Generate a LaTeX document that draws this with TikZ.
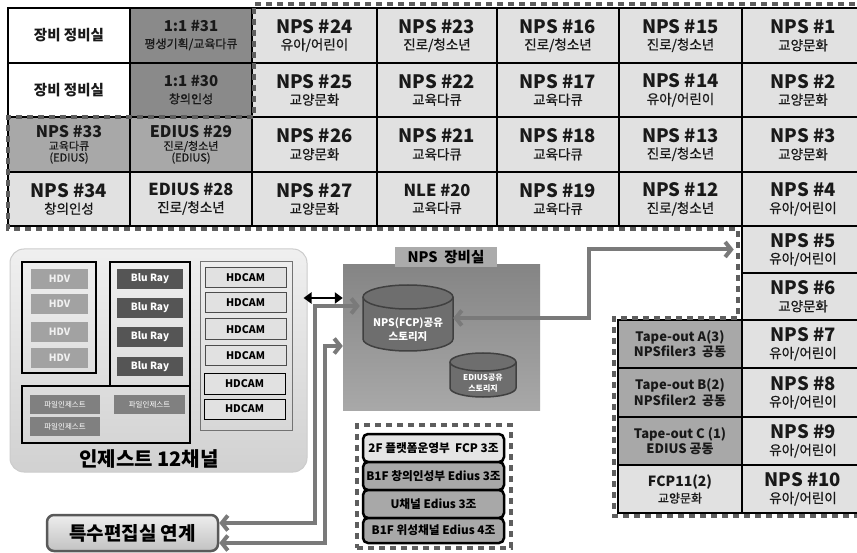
\documentclass[tikz,border=0pt]{standalone}
\usepackage{fontspec}
\setmainfont{Noto Sans CJK KR}
\newfontfamily\subf{Noto Sans CJK KR}[FakeBold=0.8]
\usetikzlibrary{arrows.meta}
\definecolor{cellg}{HTML}{E1E1E1}
\definecolor{darkg}{HTML}{8A8A8A}
\definecolor{midg}{HTML}{A8A8A8}
\definecolor{dashg}{HTML}{5E5E5E}
\definecolor{arrg}{HTML}{7A7A7A}
\definecolor{hdvg}{HTML}{A2A2A2}
\definecolor{blug}{HTML}{555555}
\definecolor{fileg}{HTML}{808080}
\definecolor{cylg}{HTML}{6E6E6E}
\newcommand\Cell[7]{\node[cellbox,fill=#6,minimum width={(#4-#2)*1pt},minimum height={(#5-#3)*1pt}] (#1) at ({(#2+#4)/2},{(#3+#5)/2}) {#7};}
\newcommand\Bx[6]{\node[#6,minimum width={(#4-#2)*1pt},minimum height={(#5-#3)*1pt}] (#1) at ({(#2+#4)/2},{(#3+#5)/2})}
\newcommand\Np[2]{{\fontsize{18.5}{18.5}\selectfont\bfseries #1}\\{\subf #2}}
\newcommand\Mid[2]{{\fontsize{16.5}{16.5}\selectfont\bfseries #1}\\{\subf #2}}
\newcommand\Sm[2]{{\fontsize{15}{15}\selectfont\bfseries #1}\\{\fontsize{12}{12}\selectfont\subf #2}}
\newcommand\Tri[3]{{\fontsize{16}{16}\selectfont\bfseries #1}\\[-4pt]{\fontsize{11}{11}\selectfont\subf #2}\\[-5pt]{\fontsize{11}{11}\selectfont\subf #3}}
\newcommand\Tape[2]{{\fontsize{13}{13}\selectfont\bfseries #1}\\[-1pt]{\fontsize{13}{13}\selectfont\bfseries #2}}
\newcommand\Head{{\fontsize{14.5}{14.5}\selectfont\bfseries 장비 정비실}}
\begin{document}
\begin{tikzpicture}[x=1pt,y=-1pt,
  cellbox/.style={draw=black,line width=2.6pt,inner sep=0pt,align=center,font=\fontsize{13.5}{16.5}\selectfont,text=black!90},
  dashline/.style={draw=dashg,line width=4.5pt,dash pattern=on 6pt off 5pt},
  grpbox/.style={draw=black,line width=2pt,inner sep=0pt},
  hdcgrp/.style={draw=black!55,line width=1pt,inner sep=0pt},
  hdvbox/.style={fill=hdvg,inner sep=0pt,text=white!94!black,font=\fontsize{10}{10}\selectfont\bfseries},
  blubox/.style={fill=blug,inner sep=0pt,text=white,font=\fontsize{10}{10}\selectfont\bfseries},
  filebox/.style={fill=fileg,inner sep=0pt,text=white,font=\fontsize{7.5}{7.5}\selectfont},
  hdcbox/.style={fill=cellg,draw=black!70,line width=1pt,inner sep=0pt,font=\fontsize{10.5}{10.5}\selectfont\bfseries},
  listbox/.style={draw=black,line width=2.5pt,rounded corners=5pt,inner sep=0pt,font=\fontsize{11.7}{11.7}\selectfont\bfseries},
  garrow/.style={draw=arrg,line width=4pt,{Straight Barb[length=6pt,width=15pt]}-{Straight Barb[length=6pt,width=15pt]}},
  barrow/.style={draw=black,line width=2.5pt,{Triangle[length=8pt,width=11pt]}-{Triangle[length=8pt,width=11pt]}}
]
\useasboundingbox (0,0) rectangle (857,553);
\fill[white] (0,0) rectangle (857,553);
% ---- top grid
\Cell{a1}{8}{8}{130}{63}{white}{\Head}
\Cell{a2}{130}{8}{252}{63}{darkg}{\Sm{1:1 \#31}{평생기획/교육다큐}}
\Cell{n24}{252}{8}{377}{63}{cellg}{\Np{NPS \#24}{유아/어린이}}
\Cell{n23}{377}{8}{497}{63}{cellg}{\Np{NPS \#23}{진로/청소년}}
\Cell{n16}{497}{8}{619}{63}{cellg}{\Np{NPS \#16}{진로/청소년}}
\Cell{n15}{619}{8}{742}{63}{cellg}{\Np{NPS \#15}{진로/청소년}}
\Cell{n1}{742}{8}{864}{63}{cellg}{\Np{NPS \#1}{교양문화}}
\Cell{b1}{8}{63}{130}{117}{white}{\Head}
\Cell{b2}{130}{63}{252}{117}{darkg}{\Sm{1:1 \#30}{창의인성}}
\Cell{n25}{252}{63}{377}{117}{cellg}{\Np{NPS \#25}{교양문화}}
\Cell{n22}{377}{63}{497}{117}{cellg}{\Np{NPS \#22}{교육다큐}}
\Cell{n17}{497}{63}{619}{117}{cellg}{\Np{NPS \#17}{교육다큐}}
\Cell{n14}{619}{63}{742}{117}{cellg}{\Np{NPS \#14}{유아/어린이}}
\Cell{n2}{742}{63}{864}{117}{cellg}{\Np{NPS \#2}{교양문화}}
\Cell{n33}{8}{117}{130}{172}{midg}{\Tri{NPS \#33}{교육다큐}{(EDIUS)}}
\Cell{e29}{130}{117}{252}{172}{midg}{\Tri{EDIUS \#29}{진로/청소년}{(EDIUS)}}
\Cell{n26}{252}{117}{377}{172}{cellg}{\Np{NPS \#26}{교양문화}}
\Cell{n21}{377}{117}{497}{172}{cellg}{\Np{NPS \#21}{교육다큐}}
\Cell{n18}{497}{117}{619}{172}{cellg}{\Np{NPS \#18}{교육다큐}}
\Cell{n13}{619}{117}{742}{172}{cellg}{\Np{NPS \#13}{진로/청소년}}
\Cell{n3}{742}{117}{864}{172}{cellg}{\Np{NPS \#3}{교양문화}}
\Cell{n34}{8}{172}{130}{226}{cellg}{\Np{NPS \#34}{창의인성}}
\Cell{e28}{130}{172}{252}{226}{cellg}{\Mid{EDIUS \#28}{진로/청소년}}
\Cell{n27}{252}{172}{377}{226}{cellg}{\Np{NPS \#27}{교양문화}}
\Cell{l20}{377}{172}{497}{226}{cellg}{\Mid{NLE \#20}{교육다큐}}
\Cell{n19}{497}{172}{619}{226}{cellg}{\Np{NPS \#19}{교육다큐}}
\Cell{n12}{619}{172}{742}{226}{cellg}{\Np{NPS \#12}{진로/청소년}}
\Cell{n4}{742}{172}{864}{226}{cellg}{\Np{NPS \#4}{유아/어린이}}
% ---- right column
\Cell{n5}{742}{226}{864}{273}{cellg}{\Np{NPS \#5}{유아/어린이}}
\Cell{n6}{742}{273}{864}{320}{cellg}{\Np{NPS \#6}{교양문화}}
\Cell{n7}{742}{320}{864}{368}{cellg}{\Np{NPS \#7}{유아/어린이}}
\Cell{n8}{742}{368}{864}{417}{cellg}{\Np{NPS \#8}{유아/어린이}}
\Cell{n9}{742}{417}{864}{465}{cellg}{\Np{NPS \#9}{유아/어린이}}
\Cell{n10}{742}{465}{864}{513}{cellg}{\Np{NPS \#10}{유아/어린이}}
\Cell{ta}{618}{320}{742}{368}{midg}{\Tape{Tape-out A(3)}{NPSfiler3~~공동}}
\Cell{tb}{618}{368}{742}{417}{midg}{\Tape{Tape-out B(2)}{NPSfiler2~~공동}}
\Cell{tc}{618}{417}{742}{465}{midg}{\Tape{Tape-out C (1)}{EDIUS 공동}}
\Cell{fc}{618}{465}{742}{513}{cellg}{{\fontsize{14}{14}\selectfont\bfseries FCP11(2)}\\{\fontsize{12}{12}\selectfont\subf 교양문화}}
% ---- dashed outline
\draw[dashline] (866,4) -- (254,4) -- (254,117) -- (8,117) -- (8,229) -- (738,229) -- (738,318) -- (614,318) -- (614,516) -- (866,516);
% ---- ingest
\Bx{ing}{10}{249}{307}{472}{draw=black!20,line width=1pt,rounded corners=14pt,top color=white!94!black,bottom color=white!82!black,inner sep=0pt} {};
\node[font=\fontsize{20}{20}\selectfont\bfseries] (inglbl) at (149,459) {인제스트 12채널};
\Bx{ghdv}{22}{262}{96}{373}{grpbox} {};
\Bx{gblu}{110}{262}{190}{386}{grpbox} {};
\Bx{gfile}{22}{386}{190}{443}{grpbox} {};
\Bx{ghdc}{200}{262}{292}{430}{hdcgrp} {};
\Bx{h1}{31}{269}{88}{289}{hdvbox} {HDV};
\Bx{h2}{31}{294}{88}{314}{hdvbox} {HDV};
\Bx{h3}{31}{322}{88}{342}{hdvbox} {HDV};
\Bx{h4}{31}{348}{88}{368}{hdvbox} {HDV};
\Bx{u1}{117}{269}{183}{289}{blubox} {Blu Ray};
\Bx{u2}{117}{298}{183}{318}{blubox} {Blu Ray};
\Bx{u3}{117}{327}{183}{347}{blubox} {Blu Ray};
\Bx{u4}{117}{357}{183}{376}{blubox} {Blu Ray};
\Bx{f1}{30}{395}{100}{414}{filebox} {파일인제스트};
\Bx{f2}{114}{395}{185}{414}{filebox} {파일인제스트};
\Bx{f3}{30}{417}{100}{436}{filebox} {파일인제스트};
\Bx{k1}{205}{268}{286}{288}{hdcbox} {HDCAM};
\Bx{k2}{205}{293}{286}{313}{hdcbox} {HDCAM};
\Bx{k3}{205}{319}{286}{340}{hdcbox} {HDCAM};
\Bx{k4}{205}{346}{286}{366}{hdcbox} {HDCAM};
\Bx{k5}{204}{373}{285}{394}{hdcbox,draw=black} {HDCAM};
\Bx{k6}{204}{399}{285}{419}{hdcbox,draw=black} {HDCAM};
% ---- NPS room
\Bx{room}{343}{265}{540}{410}{top color=black!48,bottom color=black!34,inner sep=0pt} {};
\Bx{roomt}{395}{247}{497}{267}{fill=black!33,inner sep=0pt,font=\fontsize{14.5}{14.5}\selectfont\bfseries} {NPS~~장비실};
% cylinders
\filldraw[fill=cylg,draw=black!75,line width=1.5pt] (363,297) -- (363,339) arc[start angle=180,end angle=360,x radius=45pt,y radius=12pt] -- (453,297) arc[start angle=0,end angle=180,x radius=45pt,y radius=12pt] -- cycle;
\draw[draw=black!75,line width=1.5pt] (363,297) arc[start angle=180,end angle=360,x radius=45pt,y radius=12pt];
\Bx{cylA}{363}{285}{453}{351}{inner sep=0pt} {};
\node[text=white,font=\fontsize{10.5}{14}\selectfont\bfseries,align=center] (cylAt) at (408,330) {NPS(FCP)공유\\스토리지};
\filldraw[fill=cylg,draw=black!75,line width=1.5pt] (450,362) -- (450,388) arc[start angle=180,end angle=360,x radius=33pt,y radius=9pt] -- (516,362) arc[start angle=0,end angle=180,x radius=33pt,y radius=9pt] -- cycle;
\draw[draw=black!75,line width=1.5pt] (450,362) arc[start angle=180,end angle=360,x radius=33pt,y radius=9pt];
\Bx{cylB}{450}{353}{516}{397}{inner sep=0pt} {};
\node[text=white,font=\fontsize{8}{11}\selectfont\bfseries,align=center] (cylBt) at (483,383) {EDIUS공유\\스토리지};
% ---- special edit room
\Bx{spec}{47}{515}{218}{551}{draw=black!65,line width=2.5pt,rounded corners=7pt,top color=white!93!black,bottom color=white!76!black,inner sep=0pt,font=\fontsize{19}{19}\selectfont\bfseries} {특수편집실 연계};
% ---- list
\Bx{lstf}{357}{425}{511}{548}{dashline,inner sep=0pt} {};
\Bx{l1}{363}{434}{504}{462}{listbox,fill=white!90!black} {2F 플랫폼운영부~~FCP 3조};
\Bx{l2}{363}{462}{504}{490}{listbox,fill=midg} {B1F 창의인성부 Edius 3조};
\Bx{l3}{363}{490}{504}{518}{listbox,fill=midg} {U채널 Edius 3조};
\Bx{l4}{363}{518}{504}{543}{listbox,fill=midg} {B1F 위성채널 Edius 4조};
% ---- connectors
\draw[barrow] ([xshift=-4pt,yshift=62.5pt]ing.east) -- ([yshift=39.5pt]room.west);
\coordinate (vA) at (315,420);
\coordinate (vB) at (325,420);
\draw[garrow] ([yshift=10pt]spec.east) -| (vA) |- ([xshift=-3pt,yshift=12pt]cylA.west);
\draw[garrow] ([yshift=-10pt]spec.east) -| (vB) |- ([yshift=-8.5pt]room.west);
\draw[garrow] (cylA.east) -- ([xshift=136pt]cylA.east) |- ([xshift=-7pt]n5.west);
\end{tikzpicture}
\end{document}
